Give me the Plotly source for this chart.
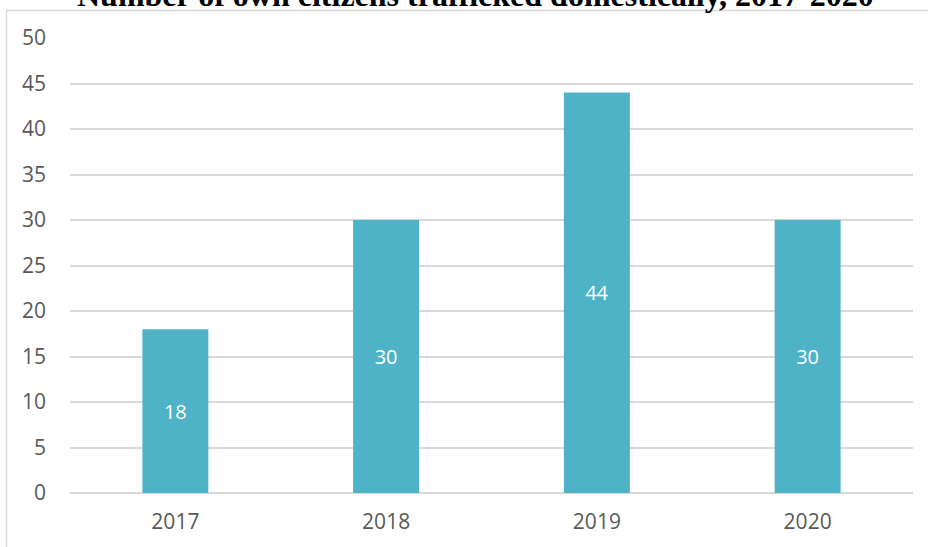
import plotly.graph_objects as go

years = ["2017", "2018", "2019", "2020"]
counts = [18, 30, 44, 30]
y_ticks = [0, 5, 10, 15, 20, 25, 30, 35, 40, 45, 50]
title_text = "Number of own citizens trafficked domestically, 2017-2020"

W, H = 928, 547
L, R, T, B = 70, 15, 38, 54
pw, ph = W - L - R, H - T - B

def px_x(x):
    return (x - L) / pw

def px_y(y):
    return (H - B - y) / ph

fig = go.Figure()
fig.add_trace(go.Bar(
    x=years, y=counts,
    marker=dict(color="#4FB3C8", line=dict(width=0)),
    width=0.313,
    text=[str(c) for c in counts],
    textposition="inside",
    insidetextanchor="middle",
    textfont=dict(color="white", size=20, family="Open Sans"),
    showlegend=False,
))

fig.update_layout(
    width=W, height=H,
    margin=dict(l=L, r=R, t=T, b=B, pad=0),
    paper_bgcolor="white", plot_bgcolor="white",
    xaxis=dict(
        type="category", range=[-0.5, 3.5], showgrid=False, showline=False,
        ticks="", tickfont=dict(size=21, color="#595959", family="Open Sans"),
        ticklabelstandoff=14,
    ),
    yaxis=dict(
        range=[0, 50], tickvals=y_ticks, showgrid=True, gridcolor="#D9D9D9",
        gridwidth=1.5, zeroline=True, zerolinecolor="#D9D9D9", zerolinewidth=1.5,
        showline=False, ticks="",
        tickfont=dict(size=21, color="#595959", family="Open Sans"),
        ticklabelstandoff=23,
    ),
    uniformtext=dict(minsize=20, mode="show"),
    shapes=[dict(
        type="rect", xref="paper", yref="paper",
        x0=px_x(6.5), x1=px_x(940), y0=px_y(560), y1=px_y(10.5),
        line=dict(color="#D9D9D9", width=1.5), layer="below",
    )],
    annotations=[dict(
        text="<b>" + title_text + "</b>", xref="paper", yref="paper",
        x=px_x(475), y=px_y(-5), xanchor="center", yanchor="middle",
        showarrow=False, font=dict(family="Liberation Serif", size=32, color="black"),
    )],
)

fig.write_html(
    "out.html",
    config={"displayModeBar": False},
    post_script="document.body.style.margin='0';document.body.style.padding='0';",
)
